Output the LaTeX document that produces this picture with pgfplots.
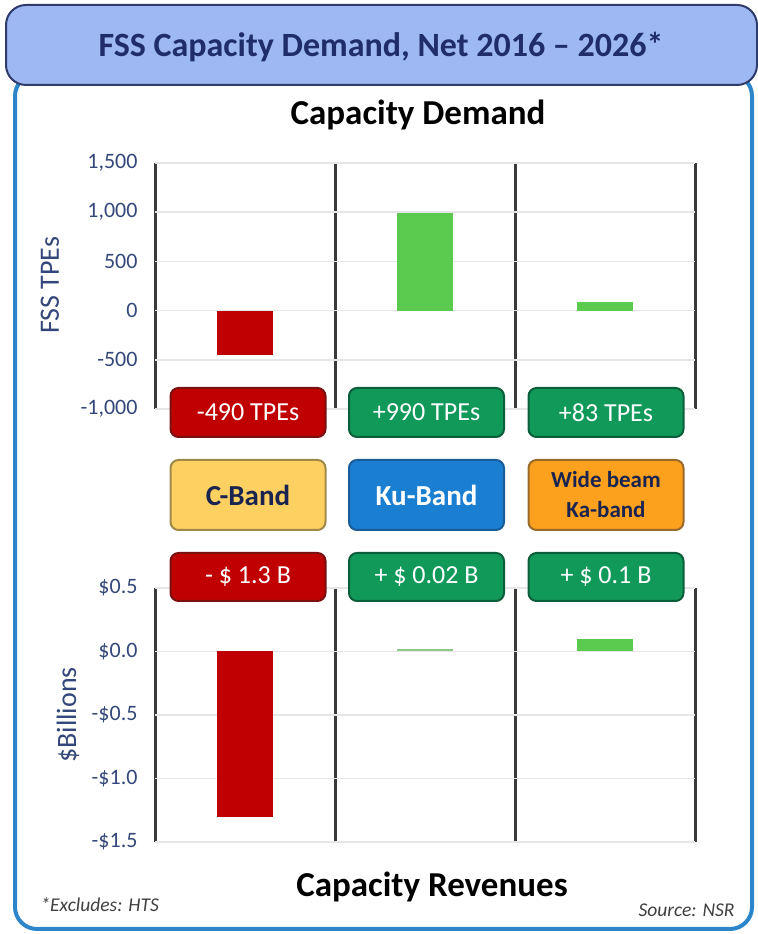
\documentclass[border=0pt]{standalone}
\usepackage{pgfplots}
\pgfplotsset{compat=1.18}
\usepackage{fontspec}
\setmainfont{Carlito}
\definecolor{headfill}{HTML}{9DB8F2}
\definecolor{headborder}{HTML}{2E3B6B}
\definecolor{titlecol}{HTML}{1F2D6B}
\definecolor{framecol}{HTML}{2D86C9}
\definecolor{tickcol}{HTML}{34477A}
\definecolor{redfill}{HTML}{C00000}
\definecolor{redborder}{HTML}{7A1010}
\definecolor{greenfill}{HTML}{11995A}
\definecolor{greenborder}{HTML}{0B5E3A}
\definecolor{yelfill}{HTML}{FDD062}
\definecolor{yelborder}{HTML}{A08848}
\definecolor{bluefill}{HTML}{1B7FD1}
\definecolor{blueborder}{HTML}{1A5C99}
\definecolor{orafill}{HTML}{FCA11E}
\definecolor{oraborder}{HTML}{9A6A2A}
\definecolor{barred}{HTML}{C00000}
\definecolor{bargreen}{HTML}{5BCB4F}
\definecolor{barpale}{HTML}{8CC88A}
\definecolor{boxtext}{HTML}{1A2450}
\definecolor{sepcol}{HTML}{3A3A3A}
\definecolor{gridcol}{HTML}{E6E6E6}

\pgfplotsset{
  panel/.style={
    scale only axis, width=540bp,
    xmin=-0.5, xmax=2.5,
    xtick={-0.5,0.5,1.5,2.5}, xticklabels={},
    xmajorgrids, ymajorgrids,
    x grid style={sepcol, line width=3bp},
    y grid style={gridcol, line width=1.5bp},
    axis line style={draw=none},
    major tick length=0pt,
    yticklabel style={font=\fontsize{22bp}{24bp}\selectfont, text=tickcol, anchor=east, xshift=-14bp},
    clip=false,
  },
  tbar/.style={ybar, bar width=56bp, bar shift=0pt, draw=none},
}

\begin{document}
\begin{tikzpicture}[x=1bp,y=1bp,
  box/.style={rounded corners=8bp, line width=2bp, minimum width=155bp, align=center, inner sep=0pt}]
\path[use as bounding box] (0,0) rectangle (758,934);

% outer frame
\draw[framecol, line width=4bp, rounded corners=22bp] (15,5) rectangle (752,860);
% header
\draw[fill=headfill, draw=headborder, line width=2bp, rounded corners=20bp] (6,849) rectangle (757,929);
\node[text=titlecol, font=\bfseries\fontsize{34bp}{36bp}\selectfont] at (381,887) {FSS Capacity Demand, Net 2016 -- 2026*};

\node[font=\bfseries\fontsize{35bp}{37bp}\selectfont] at (418,819) {Capacity Demand};
\node[font=\bfseries\fontsize{35bp}{37bp}\selectfont] at (432,47) {Capacity Revenues};

\node[text=black!75, font=\itshape\fontsize{19.5bp}{21bp}\selectfont, anchor=west] at (37,29) {*Excludes: HTS};
\node[text=black!75, font=\itshape\fontsize{19.5bp}{21bp}\selectfont, anchor=east] at (738,24) {Source: NSR};

\node[rotate=90, text=tickcol, font=\fontsize{28bp}{30bp}\selectfont] at (50,649) {FSS TPEs};
\node[rotate=90, text=tickcol, font=\fontsize{28bp}{30bp}\selectfont] at (68,219) {\$Billions};

% top panel: capacity demand (TPEs)
\begin{axis}[panel, at={(155bp,525bp)}, anchor=south west, height=246bp,
  ymin=-1000, ymax=1500,
  ytick={-1000,-500,0,500,1000,1500},
  yticklabels={-1{,}000,-500,0,500,1{,}000,1{,}500}]
\addplot[tbar, fill=barred] coordinates {(0,-450)};
\addplot[tbar, fill=bargreen] coordinates {(1,990)};
\addplot[tbar, fill=bargreen] coordinates {(2,83)};
\end{axis}

% bottom panel: capacity revenues ($B)
\begin{axis}[panel, at={(155bp,92bp)}, anchor=south west, height=254bp,
  ymin=-1.5, ymax=0.5,
  ytick={-1.5,-1,-0.5,0,0.5},
  yticklabels={-\$1.5,-\$1.0,-\$0.5,\$0.0,\$0.5}]
\addplot[tbar, fill=barred] coordinates {(0,-1.3)};
\addplot[tbar, fill=barpale] coordinates {(1,0.02)};
\addplot[tbar, fill=bargreen] coordinates {(2,0.1)};
\end{axis}

% row 1 boxes (TPEs)
\begin{scope}[font=\fontsize{26bp}{28bp}\selectfont]
\node[box, fill=redfill, draw=redborder, minimum height=49bp, text=white] at (248,521.5) {-490 TPEs};
\node[box, fill=greenfill, draw=greenborder, minimum height=49bp, text=white] at (426.5,521.5) {+990 TPEs};
\node[box, fill=greenfill, draw=greenborder, minimum height=49bp, text=white] at (606,521.5) {+83 TPEs};
% row 3 boxes ($B)
\node[box, fill=redfill, draw=redborder, minimum height=48bp, text=white] at (248,357) {- \$ 1.3 B};
\node[box, fill=greenfill, draw=greenborder, minimum height=48bp, text=white] at (426.5,357) {+ \$ 0.02 B};
\node[box, fill=greenfill, draw=greenborder, minimum height=48bp, text=white] at (606,357) {+ \$ 0.1 B};
\end{scope}
% row 2 boxes (bands)
\node[box, fill=yelfill, draw=yelborder, minimum height=70bp, text=boxtext, font=\bfseries\fontsize{29bp}{31bp}\selectfont] at (248,439) {C-Band};
\node[box, fill=bluefill, draw=blueborder, minimum height=70bp, text=white, font=\bfseries\fontsize{29bp}{31bp}\selectfont] at (426.5,439) {Ku-Band};
\node[box, fill=orafill, draw=oraborder, minimum height=70bp, text=boxtext, font=\bfseries\fontsize{23bp}{30bp}\selectfont] at (606,439) {Wide beam\\Ka-band};
\end{tikzpicture}
\end{document}
